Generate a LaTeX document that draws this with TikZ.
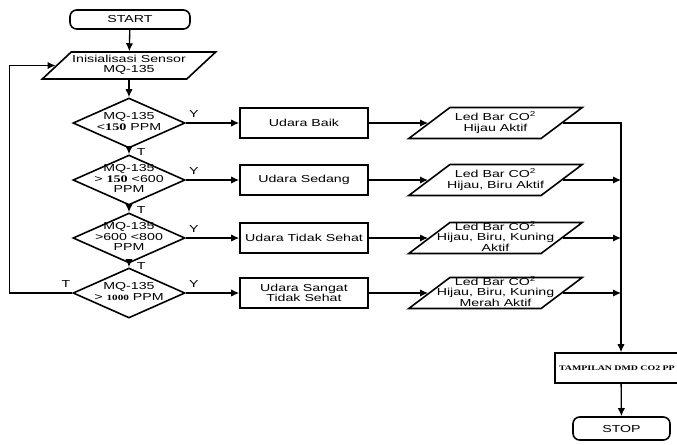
\documentclass[tikz,border=0pt]{standalone}
\usepackage{fontspec}
\setmainfont{Liberation Sans}[FakeStretch=1.4]
\newfontfamily\serifnum{Liberation Serif}[FakeStretch=1.4]
\usetikzlibrary{shapes.geometric,arrows.meta}
% text that may run over the border of its shape
\newcommand{\fitin}[1]{\smash{\makebox[0pt]{\raisebox{-2pt}{\begin{tabular}{@{}c@{}}#1\end{tabular}}}}}
\begin{document}
\begin{tikzpicture}[x=0.75pt,y=-0.75pt,
  every node/.style={font=\fontsize{7.6}{7.6}\selectfont},
  flow/.style={line width=1pt,-{Latex[length=6pt,width=5.5pt]}},
  term/.style={draw,line width=1.2pt,rounded corners=5pt,minimum width=90pt,minimum height=14.25pt,inner sep=0pt},
  io/.style={draw,line width=1.2pt,trapezium,trapezium stretches body,inner xsep=0pt,inner ysep=11.6pt,
    minimum width=130pt,trapezium left angle=37,trapezium right angle=143},
  cond/.style={draw,line width=1.2pt,diamond,inner sep=0pt,minimum width=84pt,minimum height=37.5pt},
  proc/.style={draw,line width=1.2pt,minimum width=96pt,minimum height=22.5pt,align=center,inner sep=1pt}]
  \useasboundingbox (0,0) rectangle (677,444);
  \fill[white] (0,0) rectangle (677,444);
  \clip (0,0) rectangle (677,444);
  \node[term] (start) at (130,19.5) {START};
  \node[io,inner ysep=10.1pt,trapezium left angle=43,trapezium right angle=137] (init) at (129,65.5)
    {\fitin{Inisialisasi Sensor\\MQ-135}};
  % d1--d4 are the checks on the left column
  \node[cond] (d1) at (129,123) {\fitin{MQ-135\\<{\serifnum\bfseries 150} PPM}};
  \node[cond] (d2) at (129,180) {\fitin{MQ-135\\> {\serifnum\bfseries 150} <600\\PPM}};
  \node[cond] (d3) at (129,238) {\fitin{MQ-135\\>600 <800\\PPM}};
  \node[cond] (d4) at (129,293) {\fitin{MQ-135\\> {\serifnum\bfseries\fontsize{6}{7}\selectfont 1000} PPM}};
  % b1--b4 are the air quality boxes
  \node[proc] (b1) at (304,123) {Udara Baik};
  \node[proc] (b2) at (304,180) {Udara Sedang};
  \node[proc] (b3) at (304,238) {Udara Tidak Sehat};
  \node[proc] (b4) at (304,293) {Udara Sangat\\Tidak Sehat};
  % l1--l4 are the led bar outputs
  \node[io] (l1) at (495.5,123) {\fitin{Led Bar CO\textsuperscript{2}\\Hijau Aktif}};
  \node[io] (l2) at (495.5,180) {\fitin{Led Bar CO\textsuperscript{2}\\Hijau, Biru Aktif}};
  \node[io] (l3) at (495.5,238) {\fitin{Led Bar CO\textsuperscript{2}\\Hijau, Biru, Kuning\\Aktif}};
  \node[io] (l4) at (495.5,293) {\fitin{Led Bar CO\textsuperscript{2}\\Hijau, Biru, Kuning\\Merah Aktif}};
  \node[draw,line width=1.2pt,minimum height=22.5pt,text width=93pt,inner xsep=3pt,align=left,
    font=\serifnum\bfseries\fontsize{5.3}{6}\selectfont] (disp) at (621,368) {TAMPILAN DMD CO2 PP};
  \node[term,minimum width=72.75pt,minimum height=17.25pt] (stop) at (621.5,428.5) {STOP};
  \draw[flow] (start) -- (init);
  \draw[flow] (init) -- (d1);
  \draw[flow] (d1) -- node[pos=0.6,right=2pt] {T} (d2);
  \draw[flow] (d2) -- node[pos=0.6,right=2pt] {T} (d3);
  \draw[flow] (d3) -- node[pos=0.6,right=2pt] {T} (d4);
  \draw[flow] (d1) -- node[pos=0.15,above] {Y} (b1);
  \draw[flow] (d2) -- node[pos=0.15,above] {Y} (b2);
  \draw[flow] (d3) -- node[pos=0.15,above] {Y} (b3);
  \draw[flow] (d4) -- node[pos=0.15,above] {Y} (b4);
  \draw[flow] (b1) -- (l1);
  \draw[flow] (b2) -- (l2);
  \draw[flow] (b3) -- (l3);
  \draw[flow] (b4) -- (l4);
  % all outputs join the line down to the display
  \draw[flow] (l1.east) -| (disp.north);
  \draw[flow] (l2.east) -- (l2.east -| disp.north);
  \draw[flow] (l3.east) -- (l3.east -| disp.north);
  \draw[flow] (l4.east) -- (l4.east -| disp.north);
  \draw[flow] (disp) -- (stop);
  \draw[flow] (d4.west) -- node[pos=0.1,above] {T} ++(-63,0) |- (init.west);
\end{tikzpicture}
\end{document}
